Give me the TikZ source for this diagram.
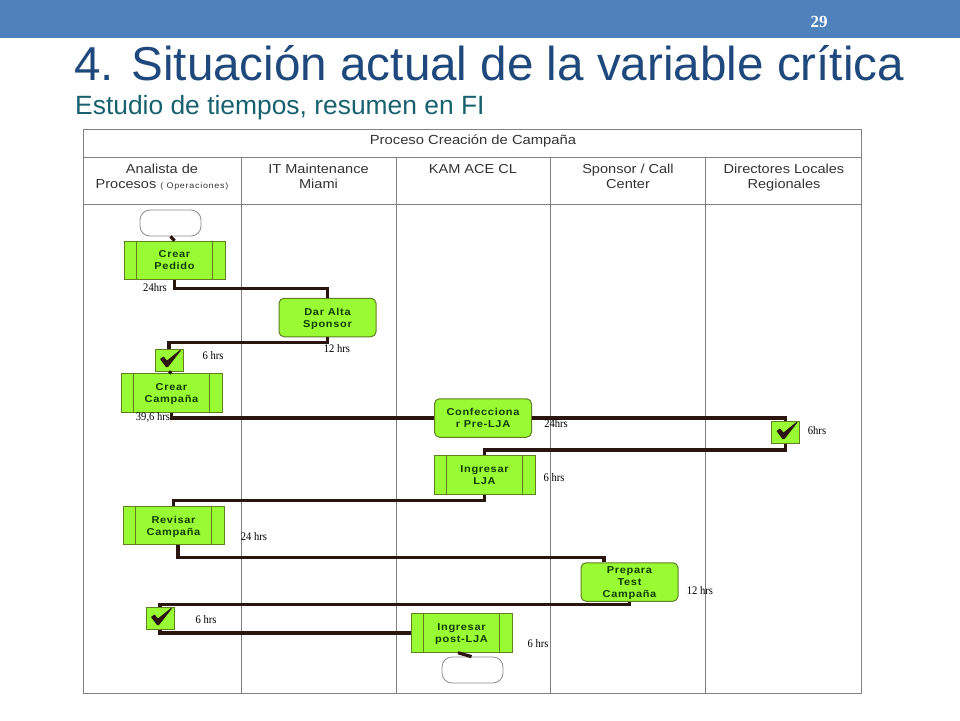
\documentclass[tikz,border=0pt]{standalone}
\usepackage{fontspec}
\setmainfont{Liberation Sans}
\newfontfamily\boxfont[LetterSpace=7,FakeStretch=1.1]{Liberation Sans Bold}
\newfontfamily\headfont[FakeStretch=1.12]{Liberation Sans}
\newfontfamily\smallfont[LetterSpace=9,FakeStretch=1.12]{Liberation Sans}
\newfontfamily\timefont[FakeStretch=0.92]{Liberation Serif}
\newfontfamily\pagefont{Liberation Serif Bold}
\definecolor{barblue}{HTML}{4F81BD}
\definecolor{titleblue}{HTML}{1F497D}
\definecolor{subteal}{HTML}{17616F}
\definecolor{boxgreen}{HTML}{99FB33}
\definecolor{boxedge}{HTML}{5F7F20}
\definecolor{linkdark}{HTML}{2A1510}
\definecolor{boxtext}{HTML}{123C05}
\tikzset{
	procbox/.style={draw=boxedge,fill=boxgreen,line width=1pt,minimum width=101pt,minimum height=38.5pt,inner sep=0pt,align=center,text=boxtext,text depth=-3pt,font=\boxfont\fontsize{10}{12}\selectfont},
	workbox/.style={procbox,rounded corners=5pt,minimum width=97pt},
	checkbox/.style={draw=boxedge,fill=boxgreen,line width=1pt,minimum width=28pt,minimum height=22pt,inner sep=0pt},
	endbox/.style={draw=black!45,fill=white,line width=0.8pt,rounded corners=10pt,minimum width=61pt,minimum height=26pt},
	link/.style={draw=linkdark,line width=3.2pt},
	grid/.style={draw=black!50,line width=0.9pt},
	headlabel/.style={inner sep=0pt,align=center,text=black!80,font=\headfont\fontsize{13}{15}\selectfont},
	timelabel/.style={inner sep=0pt,font=\timefont\fontsize{11.5}{12}\selectfont}
}
\begin{document}
\begin{tikzpicture}[x=1pt,y=-1pt]
	\useasboundingbox (0,0) rectangle (960,720);
	\fill[barblue] (0,0) rectangle (960,38);
	\node (page) at (819,21.5) [inner sep=0pt,text=white,font=\pagefont\fontsize{17}{17}\selectfont] {29};
	\node (title) at (74,63) [anchor=west,inner sep=0pt,text=titleblue,font=\fontsize{47.6}{50}\selectfont] {4. Situación actual de la variable crítica};
	\node (subtitle) at (75,108) [anchor=west,inner sep=0pt,text=subteal,font=\fontsize{26.4}{28}\selectfont] {Estudio de tiempos, resumen en FI};

	% swimlanes
	\draw[grid] (83,129) rectangle (861,693);
	\draw[grid] (83,157) -- (861,157);
	\draw[grid] (83,204) -- (861,204);
	\foreach \x in {241,396,550,705} {\draw[grid] (\x,157) -- (\x,693);}
	\node (lanes) at (473,141) [headlabel,font=\headfont\fontsize{13.2}{15}\selectfont] {Proceso Creación de Campaña};
	\node (analista) at (162,177) [headlabel] {Analista de\\Procesos {\smallfont\fontsize{8}{10}\selectfont( Operaciones)}};
	\node (maint) at (318.5,176) [headlabel] {IT Maintenance\\Miami};
	\node (kam) at (473,169) [headlabel] {KAM ACE CL};
	\node (sponsor) at (628,176) [headlabel] {Sponsor / Call\\Center};
	\node (directores) at (784,178) [headlabel] {Directores Locales\\Regionales};

	% steps
	\node (inicio) at (170.5,223) [endbox] {};
	\node (pedido) at (174.5,260.5) [procbox] {Crear\\Pedido};
	\node (alta) at (327.5,317.5) [workbox] {Dar Alta\\Sponsor};
	\node (check1) at (169,360) [checkbox] {};
	\node (campana) at (171.5,393) [procbox] {Crear\\Campaña};
	\node (prelja) at (483,418) [workbox] {Confecciona\\r Pre-LJA};
	\node (check2) at (785.5,432) [checkbox] {};
	\node (lja) at (484.5,475) [procbox] {Ingresar\\LJA};
	\node (revisar) at (173.5,525.5) [procbox] {Revisar\\Campaña};
	\node (prepara) at (629.5,582) [workbox] {Prepara\\Test\\Campaña};
	\node (check3) at (160,618) [checkbox] {};
	\node (post) at (461.5,633) [procbox] {Ingresar\\post-LJA};
	\node (fin) at (472.5,670) [endbox] {};
	\foreach \i in {pedido,campana,lja,revisar,post} {
		\draw[boxedge,line width=1pt] ([xshift=13pt]\i.north west) -- ([xshift=13pt]\i.south west);
		\draw[boxedge,line width=1pt] ([xshift=-13pt]\i.north east) -- ([xshift=-13pt]\i.south east);
	}
	\foreach \i in {check1,check2,check3} {
		\fill[linkdark] ([shift={(-9,-1)}]\i.center) -- ([shift={(-5.5,-3.5)}]\i.center) -- ([shift={(-2,0.5)}]\i.center) -- ([shift={(11,-10)}]\i.center) -- ([shift={(12,-9.5)}]\i.center) -- ([shift={(-1,7)}]\i.center) -- ([shift={(-3,7)}]\i.center) -- cycle;
	}

	% connectors
	\draw[link] (inicio.south) -- (pedido.north);
	\draw[link] (pedido.south) -- ++(0,8.5) -| (alta.north);
	\draw[link] (alta.south) -- ++(0,5) -| (check1.north);
	\draw[link] (check1.south) -- (campana.north);
	\draw[link] (campana.south) |- (prelja.west);
	\draw[link] (prelja.east) -| (check2.north);
	\draw[link] (check2.south) -- ++(0,6.5) -| (lja.north);
	\draw[link] (lja.south) -- ++(0,6) -| (revisar.north);
	\draw[link] ([xshift=4.5pt]revisar.south) -- ++(0,12) -| ([xshift=-25.5pt]prepara.north);
	\draw[link] (prepara.south) -- ++(0,2.5) -| (check3.north);
	\draw[link] (check3.south) |- (post.west);
	\draw[link] ([xshift=-1pt]fin.north) -- ([xshift=-3.5pt]post.south);

	% times
	\node (t1) at (155,288) [timelabel] {24hrs};
	\node (t2) at (337,349) [timelabel] {12 hrs};
	\node (t3) at (213,356) [timelabel] {6 hrs};
	\node (t4) at (153,417) [timelabel] {39,6 hrs};
	\node (t5) at (556,424) [timelabel] {24hrs};
	\node (t6) at (817,431) [timelabel] {6hrs};
	\node (t7) at (554,478) [timelabel] {6 hrs};
	\node (t8) at (254,537) [timelabel] {24 hrs};
	\node (t9) at (700,591) [timelabel] {12 hrs};
	\node (t10) at (206,620) [timelabel] {6 hrs};
	\node (t11) at (538,644) [timelabel] {6 hrs};
\end{tikzpicture}
\end{document}
